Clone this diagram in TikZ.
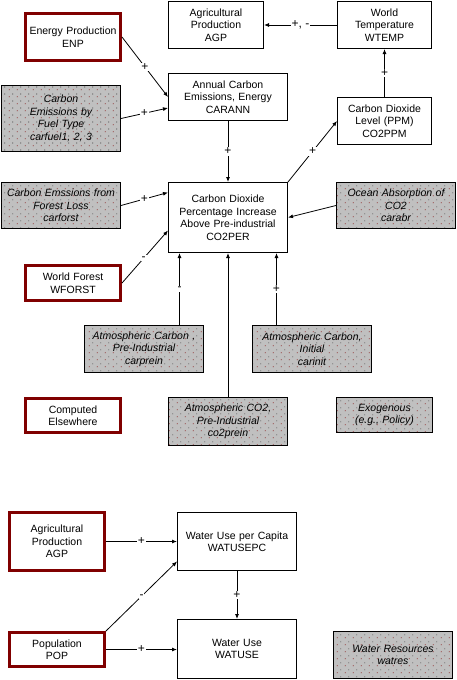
\documentclass[tikz,border=0pt]{standalone}
\usepackage{fontspec}
\setmainfont{Liberation Sans}
\usetikzlibrary{arrows.meta,patterns,calc}
\definecolor{boxred}{RGB}{128,0,0}
\definecolor{boxgray}{RGB}{192,192,192}
\pgfdeclarepatterninherentlycolored{speckle}{\pgfpointorigin}{\pgfpoint{8pt}{6.5pt}}{\pgfpoint{8pt}{6.5pt}}{%
  \pgfsetfillcolor{boxred}%
  \pgfpathrectangle{\pgfpoint{1pt}{1pt}}{\pgfpoint{0.8pt}{0.8pt}}%
  \pgfusepath{fill}%
  \pgfsetfillcolor{black}%
  \pgfpathrectangle{\pgfpoint{5pt}{4pt}}{\pgfpoint{0.7pt}{0.7pt}}%
  \pgfusepath{fill}%
}
\tikzset{
  txt/.style={font=\fontsize{10.5}{12.5}\selectfont, align=center},
  plain/.style={txt, rectangle, draw=black, line width=1pt, fill=white, inner sep=1pt},
  ext/.style={plain, draw=boxred, line width=3pt},
  exo/.style={plain, fill=boxgray, postaction={pattern=speckle}, font=\fontsize{10.5}{12.5}\selectfont\itshape},
  arr/.style={-{Latex[length=5pt,width=4pt]}, line width=0.8pt, draw=black},
  sign/.style={font=\fontsize{12}{14}\selectfont, fill=white, inner sep=1pt}
}
\begin{document}
\begin{tikzpicture}[x=1pt,y=-1pt]
\useasboundingbox (0,0) rectangle (456,680);
% nodes
\node[ext, minimum width=95, minimum height=47, text width=91pt] (enp) at (73,37) {Energy Production\\ENP};
\node[exo, minimum width=119, minimum height=66, text width=115pt] (carfuel) at (61,118.5) {Carbon\\Emissions by\\Fuel Type\\carfuel1, 2, 3};
\node[plain, minimum width=95, minimum height=47, text width=91pt] (agp) at (216,25) {Agricultural\\Production\\AGP};
\node[plain, minimum width=94, minimum height=47, text width=90pt] (wtemp) at (384.5,25) {World\\Temperature\\WTEMP};
\node[plain, minimum width=119, minimum height=47, text width=115pt] (carann) at (228,97) {Annual Carbon\\Emissions, Energy\\CARANN};
\node[plain, minimum width=94, minimum height=47, text width=90pt] (co2ppm) at (384.5,121) {Carbon Dioxide\\Level (PPM)\\CO2PPM};
\node[exo, minimum width=119, minimum height=46, text width=115pt] (carforst) at (61,205.5) {Carbon Emssions from\\Forest Loss\\carforst};
\node[plain, minimum width=119, minimum height=70, text width=115pt] (co2per) at (228,217.5) {Carbon Dioxide\\Percentage Increase\\Above Pre-industrial\\CO2PER};
\node[ext, minimum width=95, minimum height=35, text width=91pt] (wforst) at (73,283) {World Forest\\WFORST};
\node[exo, minimum width=119, minimum height=46, text width=115pt] (carabr) at (396,205.5) {Ocean Absorption of\\CO2\\carabr};
\node[exo, minimum width=119, minimum height=47, text width=115pt] (carprein) at (144,349) {Atmospheric Carbon ,\\Pre-Industrial\\carprein};
\node[exo, minimum width=119, minimum height=47, text width=115pt] (carinit) at (312,349) {Atmospheric Carbon,\\Initial\\carinit};
\node[ext, minimum width=95, minimum height=34, text width=91pt] (computed) at (73,415.5) {Computed\\Elsewhere};
\node[exo, minimum width=119, minimum height=48, text width=115pt] (co2prein) at (228,421.5) {Atmospheric CO2,\\Pre-Industrial\\co2prein};
\node[exo, minimum width=96, minimum height=35, text width=92pt] (exog) at (384.5,415) {Exogenous\\(e.g., Policy)};
\node[ext, minimum width=95, minimum height=58, text width=91pt] (agp2) at (57,541.5) {Agricultural\\Production\\AGP};
\node[plain, minimum width=119, minimum height=58, text width=115pt] (watusepc) at (237,541.5) {Water Use per Capita\\WATUSEPC};
\node[ext, minimum width=95, minimum height=34, text width=91pt] (pop) at (57,649.5) {Population\\POP};
\node[plain, minimum width=119, minimum height=59, text width=115pt] (watuse) at (237,649) {Water Use\\WATUSE};
\node[exo, minimum width=119, minimum height=47, text width=115pt] (watres) at (393,655) {Water Resources\\watres};
% helper coordinates
\coordinate (pinA) at ([xshift=11.5pt]co2per.south west);
\coordinate (pinB) at ([xshift=-11.5pt]co2per.south east);
% connectors
\draw[arr] (enp.east) -- node[sign]{+} (carann.west);
\draw[arr] (carfuel.east) -- node[sign]{+} ([yshift=-11pt]carann.west);
\draw[arr] (carann.south) -- node[sign]{+} (co2per.north);
\draw[arr] (co2per.north east) -- node[sign]{+} (co2ppm.west);
\draw[arr] (co2ppm.north) -- node[sign]{+} (wtemp.south);
\draw[arr] (wtemp.west) -- node[sign]{+, -} (agp.east);
\draw[arr] (carforst.east) -- node[sign]{+} ([yshift=-10.5pt]co2per.north west);
\draw[arr] (wforst.east) -- node[sign, pos=0.47]{-} ([yshift=22.5pt]co2per.south west);
\draw[arr] (carabr.west) -- (co2per.east);
\draw[arr] (pinA |- carprein.north) -- node[sign]{-} (pinA);
\draw[arr] (co2prein.north) -- (co2per.south);
\draw[arr] (pinB |- carinit.north) -- node[sign]{+} (pinB);
\draw[arr] (agp2.east) -- node[sign]{+} (watusepc.west);
\draw[arr] (pop.north east) -- node[sign]{-} ([yshift=9.5pt]watusepc.south west);
\draw[arr] (pop.east) -- node[sign]{+} (pop.east -| watuse.west);
\draw[arr] (watusepc.south) -- node[sign]{+} (watuse.north);
\end{tikzpicture}
\end{document}
